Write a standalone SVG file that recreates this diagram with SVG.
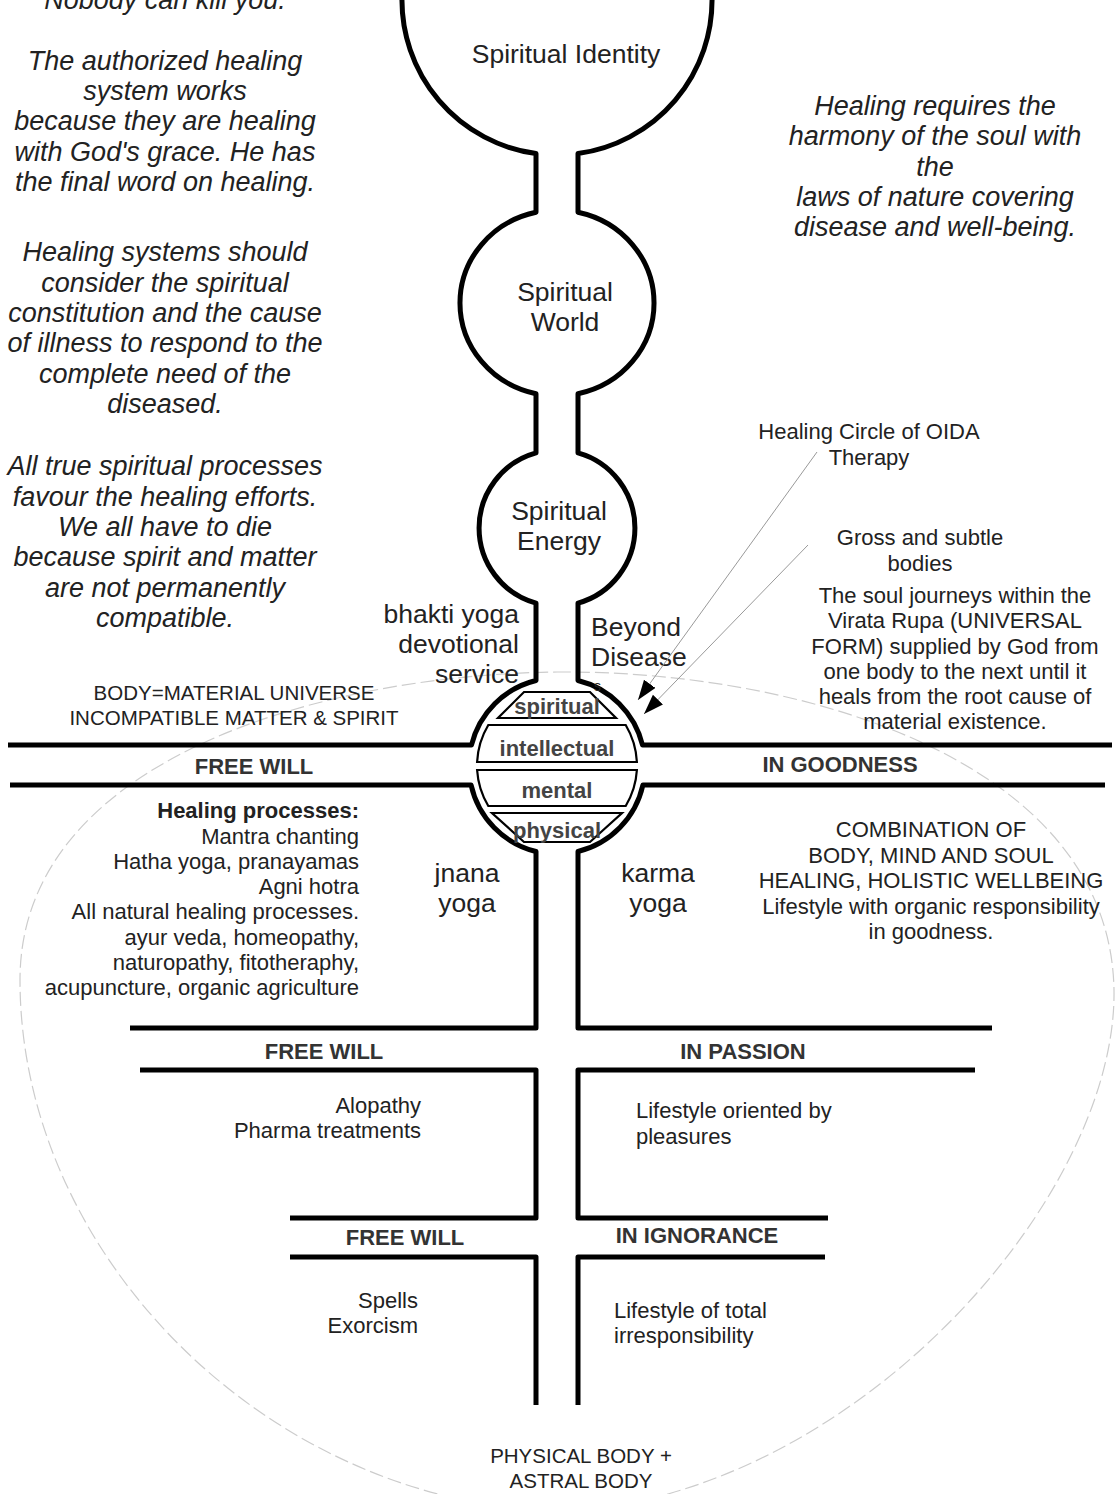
<svg xmlns="http://www.w3.org/2000/svg" width="1116" height="1494" viewBox="0 0 1116 1494">
<style>
text{font-family:'Liberation Sans',Arial,sans-serif;fill:#222}
.it{font-size:27px;font-style:italic;text-anchor:middle}
.lbl{font-size:26.5px;text-anchor:middle}
.sm{font-size:22px;text-anchor:middle}
.md{font-size:20.5px;text-anchor:middle}
.b{font-size:22px;font-weight:bold;text-anchor:middle;fill:#333}
.layer{font-size:22px;font-weight:bold;text-anchor:middle;fill:#444}
.r{text-anchor:end}
.l{text-anchor:start}
.thick{fill:none;stroke:#000;stroke-width:5;stroke-linejoin:round}
.shape{fill:#fff;stroke:#000;stroke-width:2.2}
.dash{fill:none;stroke:#ccc;stroke-width:1.2;stroke-dasharray:14 5}
.lead{stroke:#999;stroke-width:1;fill:none}
</style>
<defs>
<marker id="ah" markerUnits="userSpaceOnUse" markerWidth="22" markerHeight="16" refX="20" refY="7" orient="auto">
<path d="M0,0 L20,7 L0,14 Z" fill="#000"/>
</marker>
</defs>
<rect width="1116" height="1494" fill="#fff"/>
<g id="boundary">
<path class="dash" d="M557 672 C800 670 1110 760 1114 990 C1117 1200 850 1500 557 1512 C260 1500 20 1250 20 980 C20 760 320 675 557 672 Z"/>
</g>
<g id="left-notes">
<text class="it" x="165" y="9">Nobody can kill you.</text>
<text class="it" x="165" y="70">The authorized healing</text>
<text class="it" x="165" y="100">system works</text>
<text class="it" x="165" y="130">because they are healing</text>
<text class="it" x="165" y="161">with God's grace. He has</text>
<text class="it" x="165" y="191">the final word on healing.</text>
<text class="it" x="165" y="261">Healing systems should</text>
<text class="it" x="165" y="292">consider the spiritual</text>
<text class="it" x="165" y="322">constitution and the cause</text>
<text class="it" x="165" y="352">of illness to respond to the</text>
<text class="it" x="165" y="383">complete need of the</text>
<text class="it" x="165" y="413">diseased.</text>
<text class="it" x="165" y="475">All true spiritual processes</text>
<text class="it" x="165" y="506">favour the healing efforts.</text>
<text class="it" x="165" y="536">We all have to die</text>
<text class="it" x="165" y="566">because spirit and matter</text>
<text class="it" x="165" y="597">are not permanently</text>
<text class="it" x="165" y="627">compatible.</text>
</g>
<g id="right-notes">
<text class="it" x="935" y="115">Healing requires the</text>
<text class="it" x="935" y="145">harmony of the soul with</text>
<text class="it" x="935" y="176">the</text>
<text class="it" x="935" y="206">laws of nature covering</text>
<text class="it" x="935" y="236">disease and well-being.</text>
</g>
<g id="column">
<path class="thick" d="M402 -4 A155 155 0 0 0 536 153.6 L536 212.2 A97 93 0 0 0 536 393.8 L536 452.9 A78 78 0 0 0 536 603.1 L536 680.5 A88 88 0 0 0 471.5 745 L8 745"/>
<path class="thick" d="M712 -4 A155 155 0 0 1 578 153.6 L578 212.2 A97 93 0 0 1 578 393.8 L578 452.9 A78 78 0 0 1 578 603.1 L578 680.5 A88 88 0 0 1 642.5 745 L1112 745"/>
<path class="thick" d="M10 785 L471.1 785 A88 88 0 0 0 536 851.5 L536 1028 L130 1028"/>
<path class="thick" d="M1105 785 L642.9 785 A88 88 0 0 1 578 851.5 L578 1028 L992 1028"/>
<path class="thick" d="M140 1070 L536 1070 L536 1218 L290 1218"/>
<path class="thick" d="M975 1070 L578 1070 L578 1218 L828 1218"/>
<path class="thick" d="M290 1257 L536 1257 L536 1405"/>
<path class="thick" d="M825 1257 L578 1257 L578 1405"/>
</g>
<g id="spiritual-identity"><text class="lbl" x="566" y="63">Spiritual Identity</text></g>
<g id="spiritual-world"><text class="lbl" x="565" y="301">Spiritual</text><text class="lbl" x="565" y="331">World</text></g>
<g id="spiritual-energy"><text class="lbl" x="559" y="520">Spiritual</text><text class="lbl" x="559" y="550">Energy</text></g>
<g id="bhakti"><text class="lbl r" x="519" y="623">bhakti yoga</text><text class="lbl r" x="519" y="653">devotional</text><text class="lbl r" x="519" y="683">service</text></g>
<g id="beyond"><text class="lbl l" x="591" y="636">Beyond</text><text class="lbl l" x="591" y="666">Disease</text><text class="l" x="594" y="691" font-size="14">s</text></g>
<g id="layers">
<path class="shape" d="M524 692 L590 692 L616 718 L498 718 Z"/>
<path class="shape" d="M488.3 725 L625.7 725 A80 80 0 0 1 636.9 762 L477.1 762 A80 80 0 0 1 488.3 725 Z"/>
<path class="shape" d="M477.1 770 L636.9 770 A80 80 0 0 1 625.7 806 L488.3 806 A80 80 0 0 1 477.1 770 Z"/>
<path class="shape" d="M492 813 L622 813 L590 842 L524 842 Z"/>
<text class="layer" x="557" y="714">spiritual</text>
<text class="layer" x="557" y="756">intellectual</text>
<text class="layer" x="557" y="798">mental</text>
<text class="layer" x="557" y="838">physical</text>
</g>
<g id="oida"><text class="sm" x="869" y="439">Healing Circle of OIDA</text><text class="sm" x="869" y="465">Therapy</text></g>
<g id="gross"><text class="sm" x="920" y="545">Gross and subtle</text><text class="sm" x="920" y="571">bodies</text></g>
<g id="soul">
<text class="sm" x="955" y="603">The soul journeys within the</text>
<text class="sm" x="955" y="628">Virata Rupa (UNIVERSAL</text>
<text class="sm" x="955" y="654">FORM) supplied by God from</text>
<text class="sm" x="955" y="679">one body to the next until it</text>
<text class="sm" x="955" y="704">heals from the root cause of</text>
<text class="sm" x="955" y="729">material existence.</text>
</g>
<g id="connectors">
<line class="lead" x1="817" y1="452" x2="638" y2="700" marker-end="url(#ah)"/>
<line class="lead" x1="808" y1="545" x2="644" y2="714" marker-end="url(#ah)"/>
</g>
<g id="body-universe"><text class="md" x="234" y="700">BODY=MATERIAL UNIVERSE</text><text class="md" x="234" y="725">INCOMPATIBLE MATTER &amp; SPIRIT</text></g>
<g id="goodness-channel"><text class="b" x="254" y="774">FREE WILL</text><text class="b" x="840" y="772">IN GOODNESS</text></g>
<g id="healing-processes">
<text class="sm r" x="359" y="818" font-weight="bold">Healing processes:</text>
<text class="sm r" x="359" y="844">Mantra chanting</text>
<text class="sm r" x="359" y="869">Hatha yoga, pranayamas</text>
<text class="sm r" x="359" y="894">Agni hotra</text>
<text class="sm r" x="359" y="919">All natural healing processes.</text>
<text class="sm r" x="359" y="945">ayur veda, homeopathy,</text>
<text class="sm r" x="359" y="970">naturopathy, fitotheraphy,</text>
<text class="sm r" x="359" y="995">acupuncture, organic agriculture</text>
</g>
<g id="jnana"><text class="lbl" x="467" y="882">jnana</text><text class="lbl" x="467" y="912">yoga</text></g>
<g id="karma"><text class="lbl" x="658" y="882">karma</text><text class="lbl" x="658" y="912">yoga</text></g>
<g id="holistic">
<text class="sm" x="931" y="837">COMBINATION OF</text>
<text class="sm" x="931" y="863">BODY, MIND AND SOUL</text>
<text class="sm" x="931" y="888">HEALING, HOLISTIC WELLBEING</text>
<text class="sm" x="931" y="914">Lifestyle with organic responsibility</text>
<text class="sm" x="931" y="939">in goodness.</text>
</g>
<g id="passion-channel"><text class="b" x="324" y="1059">FREE WILL</text><text class="b" x="743" y="1059">IN PASSION</text></g>
<g id="alopathy"><text class="sm r" x="421" y="1113">Alopathy</text><text class="sm r" x="421" y="1138">Pharma treatments</text></g>
<g id="pleasures"><text class="sm l" x="636" y="1118">Lifestyle oriented by</text><text class="sm l" x="636" y="1144">pleasures</text></g>
<g id="ignorance-channel"><text class="b" x="405" y="1245">FREE WILL</text><text class="b" x="697" y="1243">IN IGNORANCE</text></g>
<g id="spells"><text class="sm r" x="418" y="1308">Spells</text><text class="sm r" x="418" y="1333">Exorcism</text></g>
<g id="irresponsibility"><text class="sm l" x="614" y="1318">Lifestyle of total</text><text class="sm l" x="614" y="1343">irresponsibility</text></g>
<g id="physical-body"><text class="md" x="581" y="1463" font-size="22">PHYSICAL BODY +</text><text class="md" x="581" y="1488" font-size="22">ASTRAL BODY</text></g>
</svg>
